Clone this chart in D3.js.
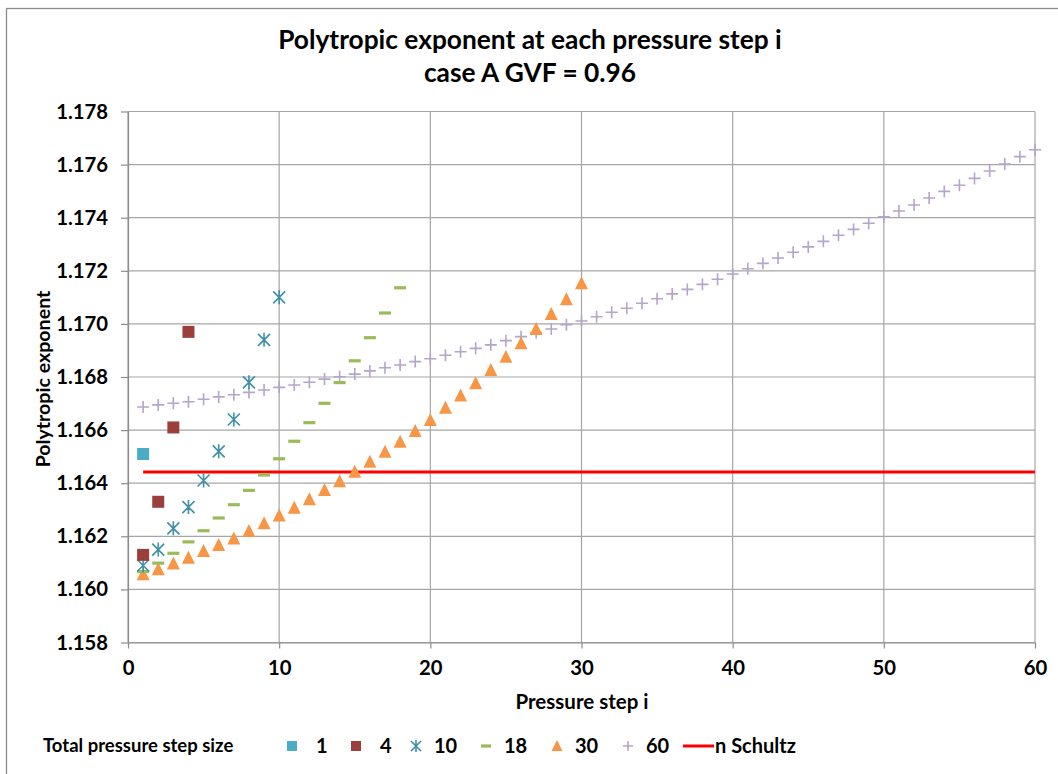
<!DOCTYPE html>
<html>
<head>
<meta charset="utf-8">
<script src="https://cdn.jsdelivr.net/npm/d3@7"></script>
<style>
  body { margin: 0; background: #fff; }
  svg text { font-family: Lato, "Open Sans", sans-serif; font-weight: 700; fill: #000; }
</style>
</head>
<body>
<svg id="chart" width="1058" height="774"></svg>
<script>
// values
const sizes = ['1', '4', '10', '18', '30', '60'];

const step1 = [1.1651];
const step4 = [1.1613, 1.1633, 1.1661, 1.1697];
const step10 = [1.1609, 1.1615, 1.1623, 1.1631, 1.1641, 1.1652, 1.1664, 1.1678, 1.1694, 1.1710];
const step18 = [1.16067, 1.16099, 1.16136, 1.16179, 1.16221, 1.16269, 1.16319, 1.16373, 1.16431,
    1.16492, 1.16558, 1.16628, 1.16701, 1.16779, 1.16861, 1.16948, 1.17041, 1.17136];
const step30 = [1.16057, 1.16076, 1.16098, 1.16119, 1.16145, 1.16167, 1.16192, 1.16220, 1.16249,
    1.16278, 1.16308, 1.16340, 1.16374, 1.16407, 1.16443, 1.16481, 1.16518, 1.16556, 1.16597,
    1.16638, 1.16684, 1.16730, 1.16776, 1.16826, 1.16876, 1.16927, 1.16981, 1.17037, 1.17093, 1.17153];
const step60 = [1.16687, 1.16695, 1.16701, 1.16707, 1.16716, 1.16725, 1.16733, 1.16742, 1.16751,
    1.16761, 1.16770, 1.16780, 1.16792, 1.16801, 1.16811, 1.16823, 1.16835, 1.16845, 1.16858,
    1.16869, 1.16882, 1.16895, 1.16908, 1.16921, 1.16937, 1.16952, 1.16967, 1.16981, 1.16997,
    1.17011, 1.17027, 1.17044, 1.17059, 1.17078, 1.17095, 1.17113, 1.17130, 1.17149, 1.17168,
    1.17188, 1.17208, 1.17228, 1.17248, 1.17270, 1.17290, 1.17311, 1.17334, 1.17356, 1.17379,
    1.17403, 1.17425, 1.17448, 1.17474, 1.17499, 1.17522, 1.17548, 1.17576, 1.17602, 1.17630, 1.17656];

const nSchultz = 1.16442;
const schultzRange = [1, 60];

const xTicks = [0, 10, 20, 30, 40, 50, 60];
const yTicks = [1.158, 1.160, 1.162, 1.164, 1.166, 1.168, 1.170, 1.172, 1.174, 1.176, 1.178];

const svg = d3.select('#chart');
const plot = {left: 128, right: 1035, top: 111.5, bottom: 642.5};

const x = d3.scaleLinear().domain([0, 60]).range([plot.left, plot.right]);
const y = d3.scaleLinear().domain([1.158, 1.178]).range([plot.bottom, plot.top]);

// outer chart border (right and bottom edges are cut off in the picture)
svg.append('rect')
    .attr('x', 6.5).attr('y', 8.5)
    .attr('width', 1100).attr('height', 800)
    .attr('fill', 'none')
    .attr('stroke', '#8c8c8c')
    .attr('stroke-width', 1.3);

// gridlines
const grid = svg.append('g').attr('stroke', '#a6a6a6').attr('stroke-width', 1.2);
yTicks.forEach(function(t){
    grid.append('line')
        .attr('x1', plot.left).attr('x2', plot.right)
        .attr('y1', y(t)).attr('y2', y(t));
});
xTicks.forEach(function(t){
    grid.append('line')
        .attr('x1', x(t)).attr('x2', x(t))
        .attr('y1', plot.top).attr('y2', plot.bottom);
});

// axes
const xAxis = svg.append('g')
    .attr('transform', 'translate(0,' + plot.bottom + ')')
    .call(d3.axisBottom(x).tickValues(xTicks).tickSize(6).tickSizeOuter(0).tickPadding(12));
const yAxis = svg.append('g')
    .attr('transform', 'translate(' + plot.left + ',0)')
    .call(d3.axisLeft(y).tickValues(yTicks).tickFormat(d3.format('.3f')).tickSize(7).tickSizeOuter(0).tickPadding(13));
[xAxis, yAxis].forEach(function(ax){
    ax.select('.domain').attr('stroke', '#8c8c8c').attr('stroke-width', 1.2);
    ax.selectAll('.tick line').attr('stroke', '#8c8c8c').attr('stroke-width', 1.2);
    ax.selectAll('.tick text')
        .attr('fill', '#000')
        .style('font-size', '20.3px')
        .style('font-family', 'Lato, sans-serif')
        .style('font-weight', 700);
});

// marker drawing helpers
const colors = {
    '1': '#4bacc6', '4': '#9b3f3c', '10': '#3e8fa8', '18': '#9bbb59',
    '30': '#f79646', '60': '#b3a5cb', schultz: '#ff0000'
};

function drawMarker(g, type, cx, cy, s){
    const h = s / 2;
    if(type === '1' || type === '4'){
        g.append('rect')
            .attr('x', cx - h).attr('y', cy - h)
            .attr('width', s).attr('height', s)
            .attr('fill', colors[type]);
    }
    else if(type === '10'){
        const p = 'M' + (cx - h) + ',' + (cy - h) + 'L' + (cx + h) + ',' + (cy + h) +
            'M' + (cx - h) + ',' + (cy + h) + 'L' + (cx + h) + ',' + (cy - h) +
            'M' + cx + ',' + (cy - h - 1) + 'L' + cx + ',' + (cy + h + 1);
        g.append('path').attr('d', p)
            .attr('stroke', colors[type]).attr('stroke-width', 1.6).attr('fill', 'none');
    }
    else if(type === '18'){
        g.append('rect')
            .attr('x', cx - h).attr('y', cy - 1.6)
            .attr('width', s).attr('height', 3.2)
            .attr('fill', colors[type]);
    }
    else if(type === '30'){
        const p = 'M' + cx + ',' + (cy - h - 1) + 'L' + (cx + h + 0.5) + ',' + (cy + h) +
            'L' + (cx - h - 0.5) + ',' + (cy + h) + 'Z';
        g.append('path').attr('d', p).attr('fill', colors[type]);
    }
    else if(type === '60'){
        const p = 'M' + (cx - h) + ',' + cy + 'L' + (cx + h) + ',' + cy +
            'M' + cx + ',' + (cy - h) + 'L' + cx + ',' + (cy + h);
        g.append('path').attr('d', p)
            .attr('stroke', colors[type]).attr('stroke-width', 1.6).attr('fill', 'none');
    }
}

const seriesList = [
    {name: '1', values: step1},
    {name: '4', values: step4},
    {name: '10', values: step10},
    {name: '18', values: step18},
    {name: '30', values: step30},
    {name: '60', values: step60}
];

// n Schultz reference line
svg.append('line')
    .attr('x1', x(schultzRange[0])).attr('x2', x(schultzRange[1]))
    .attr('y1', y(nSchultz)).attr('y2', y(nSchultz))
    .attr('stroke', colors.schultz)
    .attr('stroke-width', 3);

const marks = svg.append('g');
// draw the long series first so the short ones sit on top
seriesList.slice().reverse().forEach(function(series){
    const g = marks.append('g');
    series.values.forEach(function(v, i){
        drawMarker(g, series.name, x(i + 1), y(v), 12);
    });
});

// titles
svg.append('text')
    .attr('x', 530).attr('y', 49)
    .attr('text-anchor', 'middle')
    .style('font-size', '26.3px')
    .text('Polytropic exponent at each pressure step i');
svg.append('text')
    .attr('x', 530).attr('y', 82)
    .attr('text-anchor', 'middle')
    .style('font-size', '26.3px')
    .text('case A GVF = 0.96');

svg.append('text')
    .attr('x', 582).attr('y', 709)
    .attr('text-anchor', 'middle')
    .style('font-size', '20.5px')
    .text('Pressure step i');

svg.append('text')
    .attr('transform', 'translate(50,379) rotate(-90)')
    .attr('text-anchor', 'middle')
    .style('font-size', '19.6px')
    .text('Polytropic exponent');

// legend
const legend = svg.append('g');
legend.append('text')
    .attr('x', 43).attr('y', 752)
    .style('font-size', '18.5px')
    .text('Total pressure step size');

const legendX = [292, 356, 416, 486, 557, 628];
sizes.forEach(function(name, i){
    const g = legend.append('g');
    drawMarker(g, name, legendX[i], 746, 10);
    g.append('text')
        .attr('x', legendX[i] + (name.length > 1 ? 18 : 24)).attr('y', 753)
        .style('font-size', '20px')
        .text(name);
});
legend.append('line')
    .attr('x1', 683).attr('x2', 714)
    .attr('y1', 746).attr('y2', 746)
    .attr('stroke', colors.schultz).attr('stroke-width', 3);
legend.append('text')
    .attr('x', 715).attr('y', 753)
    .style('font-size', '20px')
    .text('n Schultz');
</script>
</body>
</html>
